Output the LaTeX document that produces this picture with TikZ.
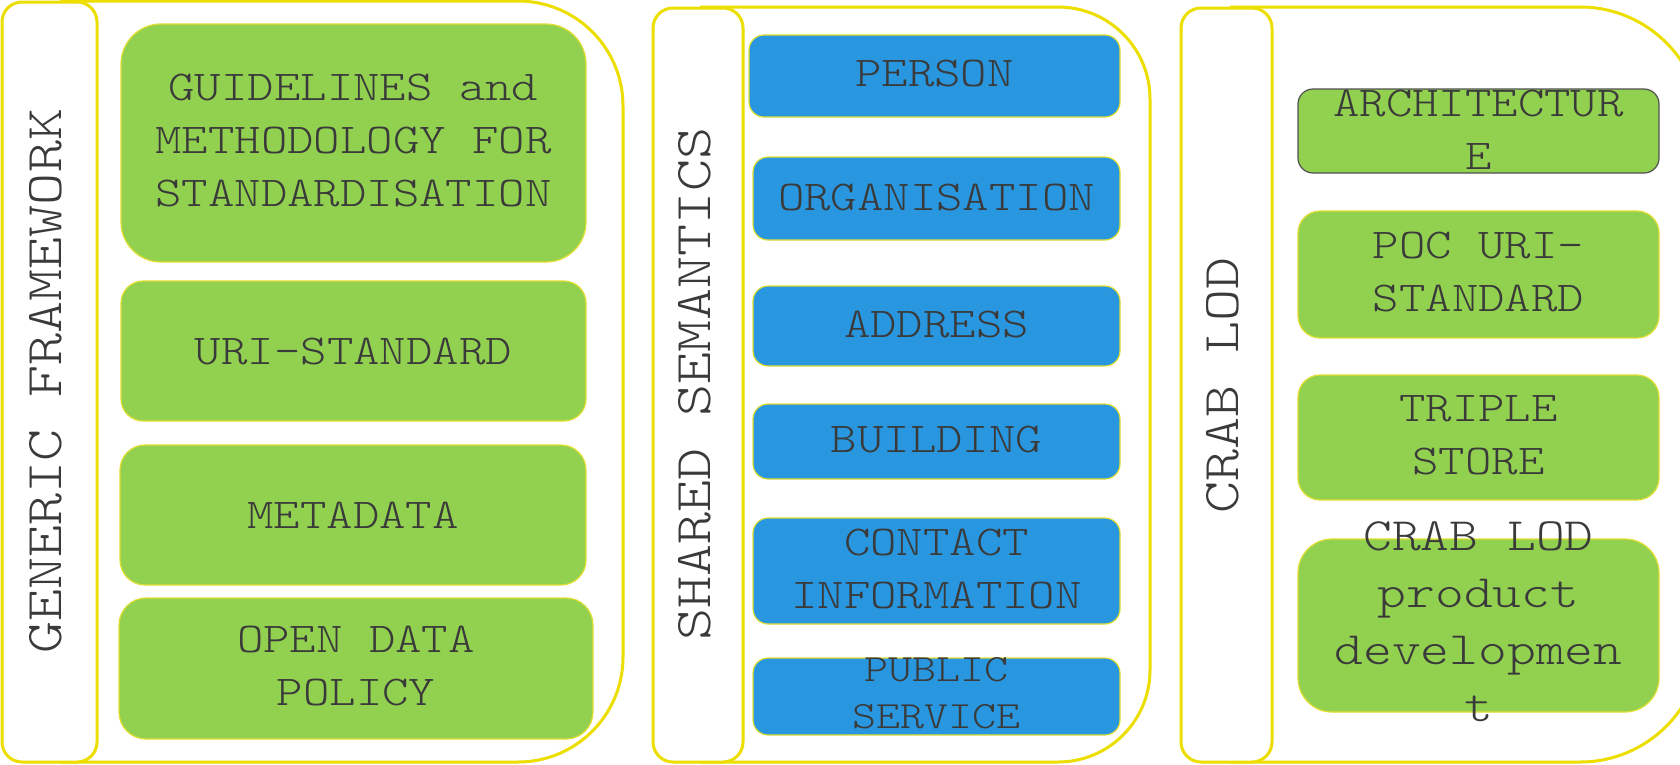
\documentclass[tikz,border=0pt]{standalone}
\usepackage{fontspec}
\newfontfamily\monofont{lmmonolt10-regular}[Extension=.otf,FakeStretch=1.184]
\definecolor{lgreen}{RGB}{146,208,80}
\definecolor{lblue}{RGB}{41,151,223}
\definecolor{pyellow}{RGB}{236,222,0}
\definecolor{byellow}{RGB}{226,222,50}
\definecolor{tgray}{RGB}{58,58,58}
\definecolor{agray}{RGB}{80,80,80}
\begin{document}
\begin{tikzpicture}[x=1pt,y=-1pt,
  panel/.style={draw=pyellow,line width=3pt,line join=round},
  labelbox/.style={draw=pyellow,line width=3pt,fill=white,rounded corners=20pt,inner sep=0pt,outer sep=0pt},
  boxsize/.style n args={3}{minimum width=#1pt,minimum height=#2pt,rounded corners=#3pt},
  gbox/.style={draw=byellow,line width=1.2pt,fill=lgreen,inner sep=0pt,outer sep=0pt},
  bbox/.style={draw=byellow,line width=1.2pt,fill=lblue,inner sep=0pt,outer sep=0pt},
  txt/.style={text=tgray,align=center,inner sep=0pt,font=\monofont\fontsize{42.5}{53}\selectfont},
  vtxt/.style={text=tgray,rotate=90,inner sep=0pt,font=\monofont\fontsize{51.5}{60}\selectfont}
]
\useasboundingbox (0,0) rectangle (1680,764);
\fill[white] (0,0) rectangle (1680,764);

% outer panels
\draw[panel,rounded corners=105pt] (60,1) -- (623,1) -- (623,762) -- (60,762);
\draw[panel,rounded corners=92pt] (700,7) -- (1150,7) -- (1150,762) -- (700,762);
\draw[panel,rounded corners=122pt] (1230,7) -- (1702,7) -- (1702,762) -- (1230,762);

% label columns
\node[labelbox,minimum width=95pt,minimum height=760pt] (l1) at (49.5,382) {};
\node[labelbox,minimum width=90pt,minimum height=754pt] (l2) at (698,385) {};
\node[labelbox,minimum width=91pt,minimum height=754pt] (l3) at (1226.5,385) {};
\node[vtxt] (v1) at (46,381) {GENERIC FRAMEWORK};
\node[vtxt] (v2) at (695,384) {SHARED SEMANTICS};
\node[vtxt] (v3) at (1223,385) {CRAB LOD};

% panel 1
\node[gbox,boxsize={465}{238}{40}] (g1) at (353.5,143) {};
\node[txt] (tg1) at (353.5,141) {GUIDELINES and\\METHODOLOGY FOR\\STANDARDISATION};
\node[gbox,boxsize={465}{140}{22}] (g2) at (353.5,351) {};
\node[txt] (tg2) at (g2.center) {URI-STANDARD};
\node[gbox,boxsize={466}{140}{25}] (g3) at (353,515) {};
\node[txt] (tg3) at (g3.center) {METADATA};
\node[gbox,boxsize={474}{141}{27}] (g4) at (356,668.5) {};
\node[txt] (tg4) at (356,666) {OPEN DATA\\POLICY};

% panel 2
\node[bbox,boxsize={371}{82}{15}] (b1) at (934.5,76) {};
\node[txt] (tb1) at (934.5,74) {PERSON};
\node[bbox,boxsize={367}{83}{15}] (b2) at (936.5,198.5) {};
\node[txt] (tb2) at (936.5,197) {ORGANISATION};
\node[bbox,boxsize={367}{80}{15}] (b3) at (936.5,326) {};
\node[txt] (tb3) at (936.5,324) {ADDRESS};
\node[bbox,boxsize={367}{75}{15}] (b4) at (936.5,441.5) {};
\node[txt] (tb4) at (936.5,440) {BUILDING};
\node[bbox,boxsize={367}{106}{15}] (b5) at (936.5,571) {};
\node[txt] (tb5) at (936.5,569) {CONTACT\\INFORMATION};
\node[bbox,boxsize={367}{77}{15}] (b6) at (936.5,696.5) {};
\node[txt,font=\monofont\fontsize{38.6}{47}\selectfont] (tb6) at (936.5,693) {PUBLIC\\SERVICE};

% panel 3
\node[gbox,draw=agray,boxsize={361}{84}{15}] (a1) at (1478.5,131) {};
\node[txt] (ta1) at (1478.5,130) {ARCHITECTUR\\E};
\node[gbox,boxsize={361}{127}{22}] (a2) at (1478.5,274.5) {};
\node[txt] (ta2) at (1478.5,272) {POC URI-\\STANDARD};
\node[gbox,boxsize={361}{125}{22}] (a3) at (1478.5,437.5) {};
\node[txt] (ta3) at (1478.5,435.5) {TRIPLE\\STORE};
\node[gbox,boxsize={361}{173}{34}] (a4) at (1478.5,625.5) {};
\node[txt,font=\monofont\fontsize{46.3}{57}\selectfont] (ta4) at (1478.5,621.5) {CRAB LOD\\product\\developmen\\t};
\end{tikzpicture}
\end{document}
